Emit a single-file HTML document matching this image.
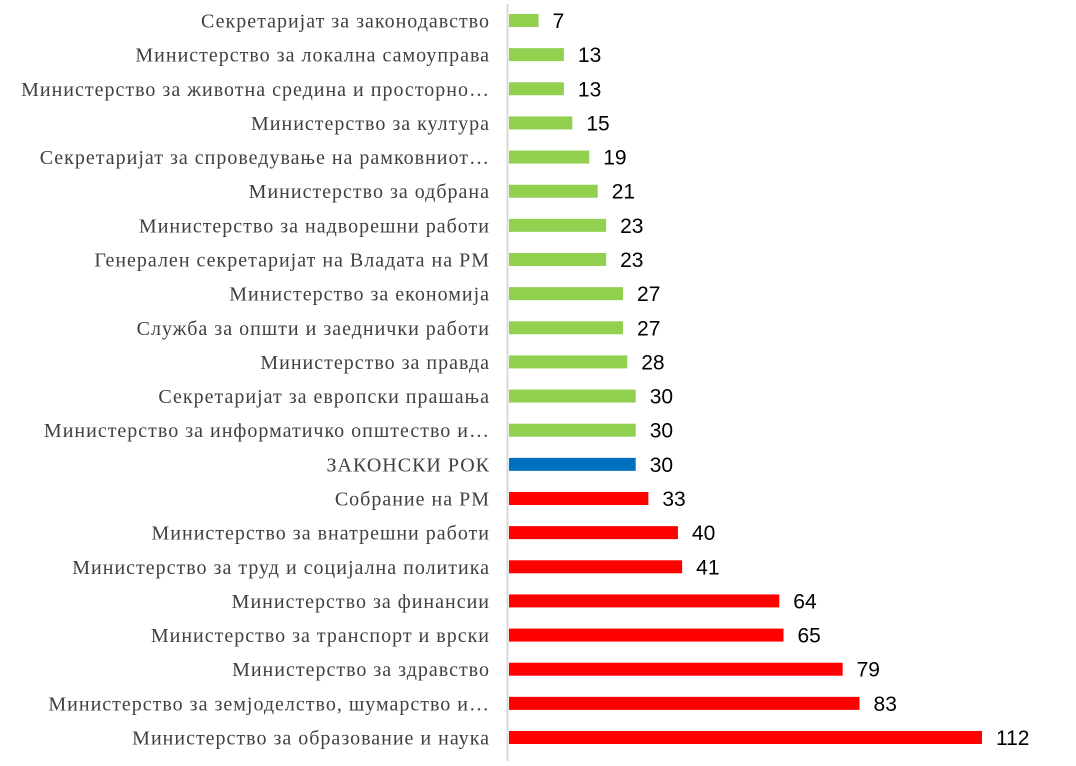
<!DOCTYPE html>
<html><head><meta charset="utf-8"><style>
body{margin:0;background:#fff;width:1076px;height:761px;overflow:hidden}
svg text{font-family:"Liberation Serif","DejaVu Serif",serif}
</style></head><body>
<svg id="chart" width="1076" height="761" xmlns="http://www.w3.org/2000/svg">
<line x1="507.5" y1="4" x2="507.5" y2="761" stroke="#d9d9d9" stroke-width="2"/>
<g id="bars"></g>
</svg>
<script>
const categories=["Секретаријат за законодавство","Министерство за локална самоуправа","Министерство за животна средина и просторно…","Министерство за култура","Секретаријат за спроведување на рамковниот…","Министерство за одбрана","Министерство за надворешни работи","Генерален секретаријат на Владата на РМ","Министерство за економија","Служба за општи и заеднички работи","Министерство за правда","Секретаријат за европски прашања","Министерство за информатичко општество и…","ЗАКОНСКИ РОК","Собрание на РМ","Министерство за внатрешни работи","Министерство за труд и социјална политика","Министерство за финансии","Министерство за транспорт и врски","Министерство за здравство","Министерство за земјоделство, шумарство и…","Министерство за образование и наука"];
const values=[7,13,13,15,19,21,23,23,27,27,28,30,30,30,33,40,41,64,65,79,83,112];
const groups=["g","g","g","g","g","g","g","g","g","g","g","g","g","b","r","r","r","r","r","r","r","r"];
const colors={g:"#92d050",b:"#0070c0",r:"#ff0000"};
const x0=509, scale=(982-509)/112;
const xs=v=>x0+v*scale;
const y0=20.5, step=(737.5-20.5)/21;
const ys=i=>y0+i*step;
const g=document.getElementById('bars');
const NS="http://www.w3.org/2000/svg";
categories.forEach((c,i)=>{
  const y=ys(i);
  const r=document.createElementNS(NS,'rect');
  r.setAttribute('x',x0);r.setAttribute('y',y-6.5);
  r.setAttribute('width',xs(values[i])-x0);r.setAttribute('height',13);
  r.setAttribute('fill',colors[groups[i]]);
  
  
  g.appendChild(r);
  const t=document.createElementNS(NS,'text');
  t.setAttribute('x',490);t.setAttribute('y',y+7);
  t.setAttribute('text-anchor','end');t.setAttribute('font-size','20');t.setAttribute('fill','#404040');
  t.setAttribute('letter-spacing','1');
  t.textContent=c;
  
  
  g.appendChild(t);
  const v=document.createElementNS(NS,'text');
  v.setAttribute('x',xs(values[i])+14);v.setAttribute('y',y+7.5);
  v.setAttribute('font-size','21');v.setAttribute('fill','#000');
  v.setAttribute('style','font-family:"Liberation Sans",sans-serif');
  v.textContent=values[i];
  
  
  g.appendChild(v);
});
</script>
</body></html>
